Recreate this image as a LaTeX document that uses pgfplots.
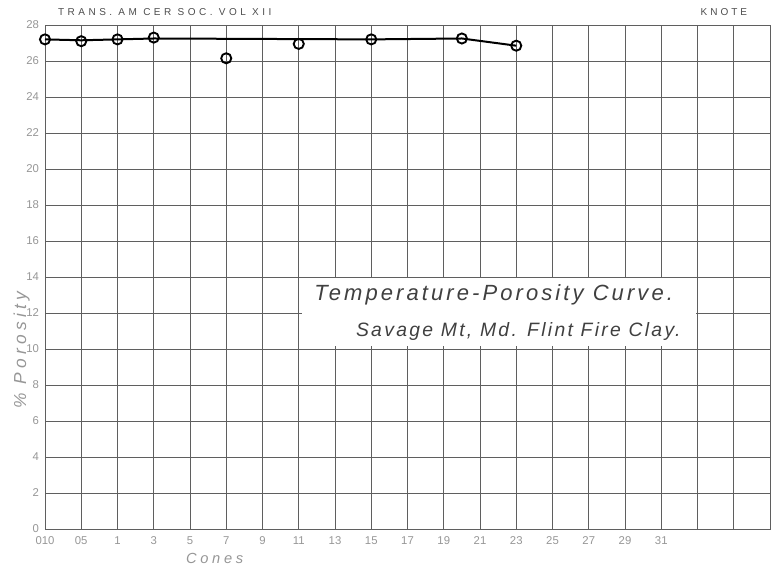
\documentclass[border=0pt]{standalone}
\usepackage{fontspec}
\setmainfont{Liberation Sans}
\usepackage{pgfplots}
\pgfplotsset{compat=1.18}
\definecolor{gridc}{RGB}{95,95,95}
\definecolor{labc}{RGB}{150,150,150}
\begin{document}
\begin{tikzpicture}
\useasboundingbox (0,0) rectangle (578.25pt,429.75pt);
\begin{axis}[
  at={(33.75pt,33pt)}, anchor=south west,
  scale only axis, width=543.75pt, height=378pt,
  xmin=0, xmax=20, ymin=0, ymax=28,
  xtick={0,...,19},
  xticklabels={010,05,1,3,5,7,9,11,13,15,17,19,21,23,25,27,29,31,,},
  ytick={0,2,...,28},
  yticklabels={0,2,4,6,8,10,12,14,16,18,20,22,24,26,28},
  grid=major,
  major grid style={gridc, line width=0.5pt},
  axis line style={gridc, line width=0.6pt},
  tick style={draw=none},
  /pgf/number format/assume math mode=true,
  tick label style={labc, font=\fontsize{8.5}{10}\selectfont},
  xticklabel style={yshift=-2pt},
  yticklabel style={xshift=-1pt},
  xlabel={\itshape\addfontfeatures{LetterSpace=25}Cones},
  xlabel style={labc, font=\fontsize{11}{13}\selectfont, at={(axis description cs:0.234,0)}, anchor=north, yshift=-15pt},
  ylabel={\itshape\addfontfeatures{LetterSpace=25}\% Porosity},
  ylabel style={labc, font=\fontsize{13}{15}\selectfont, at={(axis description cs:0,0.355)}, anchor=south, yshift=8pt},
  clip=false,
]
% fitted curve
\addplot[black, line width=1.5pt, mark=none] coordinates {
  (0,27.2) (1,27.15) (2,27.2) (3,27.25) (9,27.2) (11.5,27.25) (13,26.85)
};
% observed points
\addplot[only marks, mark=o, mark size=3.8pt, mark options={draw=black, fill=white, line width=1.4pt}] coordinates {
  (0,27.2) (1,27.1) (2,27.2) (3,27.3) (5,26.15) (7,26.95) (9,27.2) (11.5,27.25) (13,26.85)
};
% title box
\fill[white] (axis cs:7.1,10.15) rectangle (axis cs:17.95,13.95);
\node[anchor=west, font=\fontsize{16.5}{18}\selectfont\itshape\addfontfeatures{LetterSpace=14}, text=black!75] at (axis cs:7.3,13.0) {Temperature-Porosity Curve.};
\node[anchor=west, font=\fontsize{14.5}{16}\selectfont\itshape\addfontfeatures{LetterSpace=12}, text=black!75] at (axis cs:8.45,10.95) {Savage Mt, Md. Flint Fire Clay.};
\end{axis}
\node[anchor=west, text=black!70, font=\fontsize{7.5}{9}\selectfont\addfontfeatures{LetterSpace=35}] at (40pt,420.75pt) {TRANS. AM CER SOC. VOL XII};
\node[anchor=west, text=black!70, font=\fontsize{7.5}{9}\selectfont\addfontfeatures{LetterSpace=30}] at (522pt,420.75pt) {KNOTE};
\end{tikzpicture}
\end{document}
